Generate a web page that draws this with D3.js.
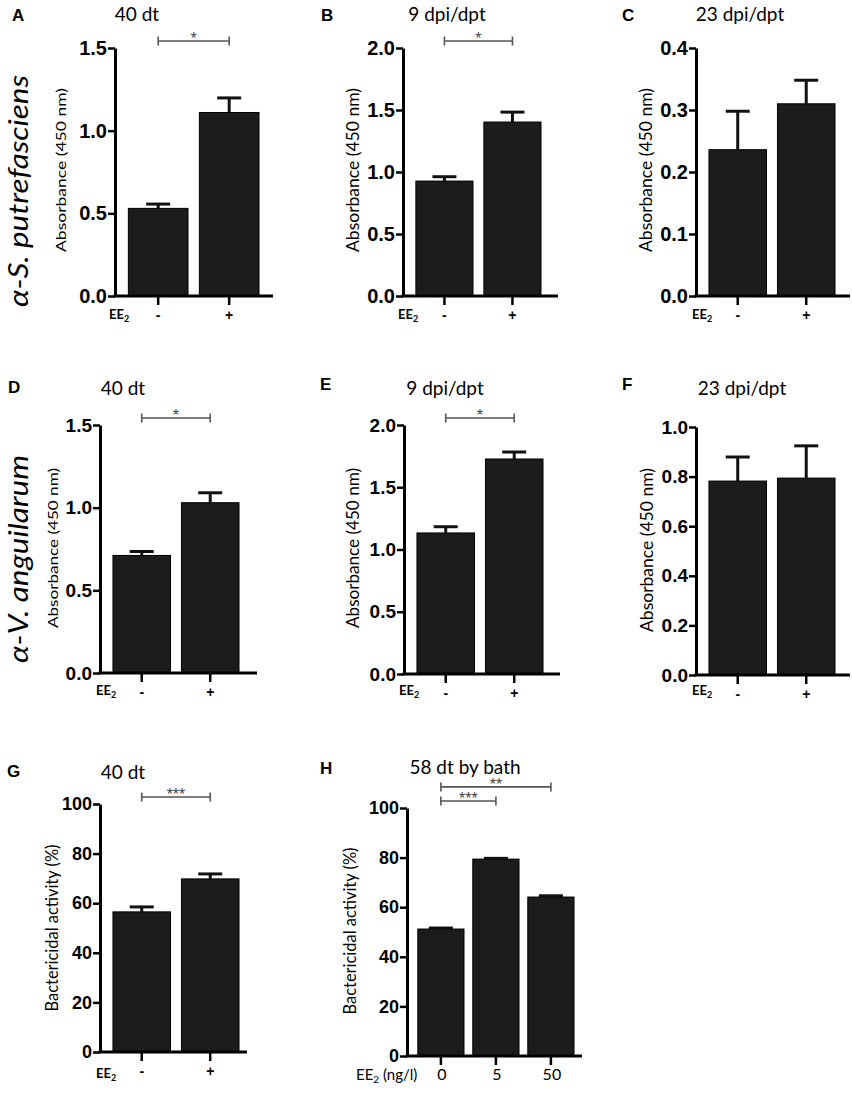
<!DOCTYPE html>
<html>
<head>
<meta charset="utf-8">
<title>EE2 antibody and bactericidal activity</title>
<script src="https://d3js.org/d3.v7.min.js"></script>
<style>
  body { margin: 0; background: #fff; }
  svg { display: block; }
</style>
</head>
<body>
<svg width="852" height="1099"></svg>
<script>
// categories
const catsEE = ["-", "+"];
const catsDose = ["0", "5", "50"];

// means and SEM
const meansA = [0.53, 1.11],  semA = [0.026, 0.088];
const meansB = [0.927, 1.403], semB = [0.035, 0.08];
const meansC = [0.236, 0.31], semC = [0.062, 0.038];
const meansD = [0.711, 1.03], semD = [0.024, 0.06];
const meansE = [1.133, 1.727], semE = [0.05, 0.056];
const meansF = [0.782, 0.794], semF = [0.097, 0.13];
const meansG = [56.5, 69.8],  semG = [2.0, 2.0];
const meansH = [51.2, 79.4, 64.1], semH = [0.4, 0.3, 0.5];

// significance brackets: [from, to, label, level (fraction of axis max)]
const sigA = [[0, 1, "*", 1.028]];
const sigB = [[0, 1, "*", 1.028]];
const sigD = [[0, 1, "*", 1.028]];
const sigE = [[0, 1, "*", 1.028]];
const sigG = [[0, 1, "***", 1.028]];
const sigH = [[0, 1, "***", 1.028], [0, 2, "**", 1.085]];

const titles = ["40 dt", "9 dpi/dpt", "23 dpi/dpt", "40 dt", "9 dpi/dpt", "23 dpi/dpt", "40 dt", "58 dt by bath"];
const letters = ["A", "B", "C", "D", "E", "F", "G", "H"];
const absLabel = "Absorbance (450 nm)";
const bacLabel = "Bactericidal activity (%)";

const svg = d3.select("svg");
const tickFont = "'Liberation Sans', Arial, sans-serif";
const textFont = "Lato, 'Open Sans', sans-serif";

// layout of each panel (axis position, band step, axis ends)
const panels = [
  {cats: catsEE, means: meansA, sem: semA, sig: sigA, max: 1.5, nt: 3, fmt: ".1f",
   x0: 115, step: 71, xEnd: 273, y0: 296, y1: 48, fs: 20,
   letter: [12, 21], title: [137, 21], ylab: absLabel, ylx: 66, yly: 170, ylfs: 14, ylLen: 164, ee: [109, 319]},
  {cats: catsEE, means: meansB, sem: semB, sig: sigB, max: 2, nt: 4, fmt: ".1f",
   x0: 403, step: 68, xEnd: 558, y0: 296, y1: 48, fs: 20,
   letter: [321, 21], title: [447, 21], ylab: absLabel, ylx: 359, yly: 170, ylfs: 17, ylLen: 164, ee: [398, 319]},
  {cats: catsEE, means: meansC, sem: semC, sig: [], max: 0.4, nt: 4, fmt: ".1f",
   x0: 696, step: 68.5, xEnd: 850, y0: 296, y1: 48, fs: 20,
   letter: [622, 21], title: [740, 21], ylab: absLabel, ylx: 652, yly: 170, ylfs: 17, ylLen: 164, ee: [692, 319]},
  {cats: catsEE, means: meansD, sem: semD, sig: sigD, max: 1.5, nt: 3, fmt: ".1f",
   x0: 100, step: 68.5, xEnd: 257, y0: 673, y1: 425, fs: 19,
   letter: [8, 393], title: [123, 395], ylab: absLabel, ylx: 58, yly: 548, ylfs: 14, ylLen: 160, ee: [96, 695]},
  {cats: catsEE, means: meansE, sem: semE, sig: sigE, max: 2, nt: 4, fmt: ".1f",
   x0: 404, step: 68.5, xEnd: 560, y0: 674, y1: 425, fs: 19,
   letter: [320, 390], title: [445, 395], ylab: absLabel, ylx: 359, yly: 548, ylfs: 17, ylLen: 160, ee: [399, 695]},
  {cats: catsEE, means: meansF, sem: semF, sig: [], max: 1, nt: 5, fmt: ".1f",
   x0: 696, step: 68.5, xEnd: 850, y0: 675, y1: 427, fs: 19,
   letter: [622, 390], title: [742, 395], ylab: absLabel, ylx: 653, yly: 550, ylfs: 17, ylLen: 164, ee: [692, 695]},
  {cats: catsEE, means: meansG, sem: semG, sig: sigG, max: 100, nt: 5, fmt: "d",
   x0: 100, step: 68.5, xEnd: 247, y0: 1052, y1: 804, fs: 18,
   letter: [7, 777], title: [123, 779], ylab: bacLabel, ylx: 58, yly: 928, ylfs: 17, ylLen: 167, ee: [96, 1078]},
  {cats: catsDose, means: meansH, sem: semH, sig: sigH, max: 100, nt: 5, fmt: "d",
   x0: 407, step: 55, xEnd: 582, y0: 1056, y1: 808, fs: 18,
   letter: [320, 774], title: [465, 774], ylab: bacLabel, ylx: 356, yly: 931, ylfs: 17, ylLen: 167, ee: [356, 1080], unit: true}
];

panels.forEach((p, k) => {
  const g = svg.append("g");
  const pad = 0.16;
  const x = d3.scaleBand()
    .domain(p.cats)
    .range([p.x0 + 2, p.x0 + 2 + p.step * (p.cats.length + pad)])
    .padding(pad);
  const y = d3.scaleLinear().domain([0, p.max]).range([p.y0, p.y1]);

  // bars
  g.selectAll("rect.bar")
    .data(p.means)
    .join("rect")
    .attr("class", "bar")
    .attr("x", (d, i) => x(p.cats[i]))
    .attr("y", d => y(d))
    .attr("width", x.bandwidth())
    .attr("height", d => y(0) - y(d))
    .attr("fill", "#1c1c1c")
    .attr("stroke", "#000")
    .attr("stroke-width", 1);

  // upper error bars
  const cx = i => x(p.cats[i]) + x.bandwidth() / 2;
  g.selectAll("line.err")
    .data(p.means)
    .join("line")
    .attr("x1", (d, i) => cx(i)).attr("x2", (d, i) => cx(i))
    .attr("y1", d => y(d)).attr("y2", (d, i) => y(d + p.sem[i]))
    .attr("stroke", "#111").attr("stroke-width", 3);
  g.selectAll("line.cap")
    .data(p.means)
    .join("line")
    .attr("x1", (d, i) => cx(i) - 12).attr("x2", (d, i) => cx(i) + 12)
    .attr("y1", (d, i) => y(d + p.sem[i])).attr("y2", (d, i) => y(d + p.sem[i]))
    .attr("stroke", "#111").attr("stroke-width", 3);

  // y axis
  const yAxis = d3.axisLeft(y)
    .tickValues(d3.ticks(0, p.max, p.nt))
    .tickFormat(d3.format(p.fmt))
    .tickSize(7).tickSizeOuter(0).tickPadding(1);
  const ya = g.append("g").attr("transform", `translate(${p.x0},0)`).call(yAxis);
  ya.select(".domain").attr("stroke", "#000").attr("stroke-width", 3);
  ya.selectAll(".tick line").attr("stroke", "#000").attr("stroke-width", 2.5);
  ya.selectAll(".tick text")
    .attr("font-family", tickFont).attr("font-weight", "bold")
    .attr("font-size", p.fs).attr("fill", "#000");

  // x axis line and ticks
  g.append("line")
    .attr("x1", p.x0 - 1.5).attr("x2", p.xEnd)
    .attr("y1", p.y0).attr("y2", p.y0)
    .attr("stroke", "#000").attr("stroke-width", 3);
  g.selectAll("line.xt")
    .data(p.cats)
    .join("line")
    .attr("x1", d => x(d) + x.bandwidth() / 2).attr("x2", d => x(d) + x.bandwidth() / 2)
    .attr("y1", p.y0).attr("y2", p.y0 + 9)
    .attr("stroke", "#000").attr("stroke-width", 2.5);
  g.selectAll("text.xl")
    .data(p.cats)
    .join("text")
    .attr("x", d => x(d) + x.bandwidth() / 2 + (p.unit ? 1 : 0))
    .attr("y", p.y0 + 24)
    .attr("text-anchor", "middle")
    .attr("font-family", p.unit ? textFont : tickFont)
    .attr("font-weight", p.unit ? "normal" : "bold")
    .attr("font-size", p.unit ? 16 : 14)
    .text(d => d);

  // EE2 label
  const ee = g.append("text")
    .attr("x", p.ee[0]).attr("y", p.ee[1])
    .attr("font-family", textFont)
    .attr("font-weight", p.unit ? "normal" : "bold")
    .attr("font-size", p.unit ? 15 : 13);
  ee.append("tspan").text("EE");
  ee.append("tspan").attr("dy", 3).attr("font-size", p.unit ? 10 : 9).text("2");
  if (p.unit) ee.append("tspan").attr("dy", -3).text(" (ng/l)");

  // significance brackets
  p.sig.forEach(s => {
    const xa = cx(s[0]), xb = cx(s[1]), yy = y(p.max * s[3]);
    g.append("line").attr("x1", xa).attr("x2", xb).attr("y1", yy).attr("y2", yy)
      .attr("stroke", "#555").attr("stroke-width", 1.6);
    [xa, xb].forEach(xx => g.append("line")
      .attr("x1", xx).attr("x2", xx).attr("y1", yy - 4.5).attr("y2", yy + 4.5)
      .attr("stroke", "#555").attr("stroke-width", 1.6));
    g.append("text")
      .attr("x", (xa + xb) / 2).attr("y", yy + 3)
      .attr("text-anchor", "middle")
      .attr("font-family", tickFont).attr("font-size", 16).attr("fill", "#444")
      .text(s[2]);
  });

  // y label
  g.append("text")
    .attr("transform", `translate(${p.ylx},${p.yly}) rotate(-90)`)
    .attr("text-anchor", "middle")
    .attr("font-family", textFont)
    .attr("font-size", p.ylfs)
    .attr("textLength", p.ylLen)
    .attr("lengthAdjust", "spacingAndGlyphs")
    .text(p.ylab);

  // panel letter and title
  g.append("text")
    .attr("x", p.letter[0]).attr("y", p.letter[1])
    .attr("font-family", tickFont).attr("font-weight", "bold").attr("font-size", 17)
    .text(letters[k]);
  g.append("text")
    .attr("x", p.title[0]).attr("y", p.title[1])
    .attr("text-anchor", "middle")
    .attr("font-family", textFont).attr("font-size", 19)
    .text(titles[k]);
});

// row labels
const rowLabels = [["α-S. putrefasciens", 191, 232], ["α-V. anguilarum", 559, 208]];
svg.selectAll("text.row")
  .data(rowLabels)
  .join("text")
  .attr("transform", d => `translate(28,${d[1]}) rotate(-90)`)
  .attr("text-anchor", "middle")
  .attr("font-family", textFont)
  .attr("font-style", "italic")
  .attr("font-size", 27)
  .attr("textLength", d => d[2])
  .attr("lengthAdjust", "spacingAndGlyphs")
  .text(d => d[0]);
</script>
</body>
</html>
